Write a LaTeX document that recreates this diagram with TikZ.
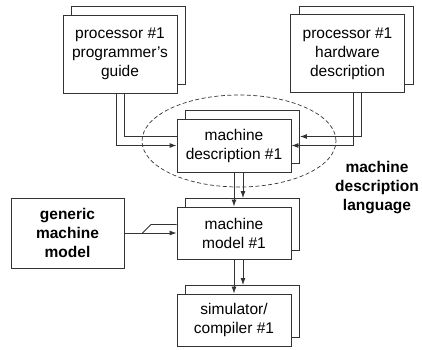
\documentclass[tikz,border=0pt]{standalone}
\usepackage{fontspec}
\setmainfont{Liberation Sans}
\usetikzlibrary{arrows.meta, calc, shadows, shapes.geometric}

\begin{document}
\begin{tikzpicture}[
  x=1pt, y=-1pt,
  every node/.style={font=\fontsize{15.5}{19}\selectfont},
  sheet/.style={rectangle, draw=black!80, fill=white, line width=0.9pt, align=center,
    minimum width=114pt, inner sep=2pt,
    copy shadow={shadow xshift=8.5pt, shadow yshift=8.5pt, draw=black!80, line width=0.9pt}},
  single/.style={rectangle, draw=black!80, fill=white, line width=0.9pt, align=center,
    font=\fontsize{15.5}{19}\selectfont\bfseries},
  flow/.style={draw=black!80, line width=0.9pt, -{Latex[length=7pt, width=5pt]}},
  back/.style={draw=black!80, line width=0.9pt}
]
  \useasboundingbox (0,0) rectangle (422,349);

  % description language boundary
  \node[ellipse, draw=black!80, line width=0.7pt, dash pattern=on 4pt off 2.5pt,
    minimum width=194pt, minimum height=92pt] (mdl) at (239,141) {};

  \node[sheet, minimum height=78pt] (guide) at (120,54) {processor \#1\\programmer's\\guide};
  \node[sheet, minimum height=78pt] (hwdesc) at (347.5,53.5) {processor \#1\\hardware\\description};
  \node[sheet, minimum height=53pt] (mdesc) at (234,145.5) {machine\\description \#1};
  \node[sheet, minimum height=52pt] (mmodel) at (234,233) {machine\\model \#1};
  \node[sheet, minimum height=52pt] (simcomp) at (234,320) {simulator/\\compiler \#1};
  \node[single, minimum width=113pt, minimum height=70pt] (generic) at (67.5,233) {generic\\machine\\model};

  \node[align=center, font=\fontsize{15.5}{19}\selectfont\bfseries] (lang) at (377,188)
    {machine\\description\\language};

  % inputs to the machine description
  \draw[back] ($(guide.south)+(4,0)$) |- ($(mdesc.west)+(0,-9)$);
  \draw[flow] ($(guide.south)+(-4,0)$) |- (mdesc.west);
  \draw[flow] ($(hwdesc.south)+(13.5,0)$) |- ($(mdesc.east)+(8.5,-9)$);
  \draw[flow] ($(hwdesc.south)+(5.5,0)$) |- (mdesc.east);

  % down the chain
  \draw[flow] (mdesc.south) -- (mmodel.north);
  \draw[flow] ($(mdesc.south)+(9,0)$) -- ($(mmodel.north)+(9,-8.5)$);
  \draw[flow] (mmodel.south) -- (simcomp.north);
  \draw[flow] ($(mmodel.south)+(9,0)$) -- ($(simcomp.north)+(9,-8.5)$);

  % generic model
  \coordinate (bend) at ($(generic.east)+(18,0)$);
  \draw[flow] (generic.east) -- (mmodel.west);
  \draw[back] (bend) -- ++(8.5,-8.5) -- ($(mmodel.west)+(0,-8.5)$);
\end{tikzpicture}
\end{document}
